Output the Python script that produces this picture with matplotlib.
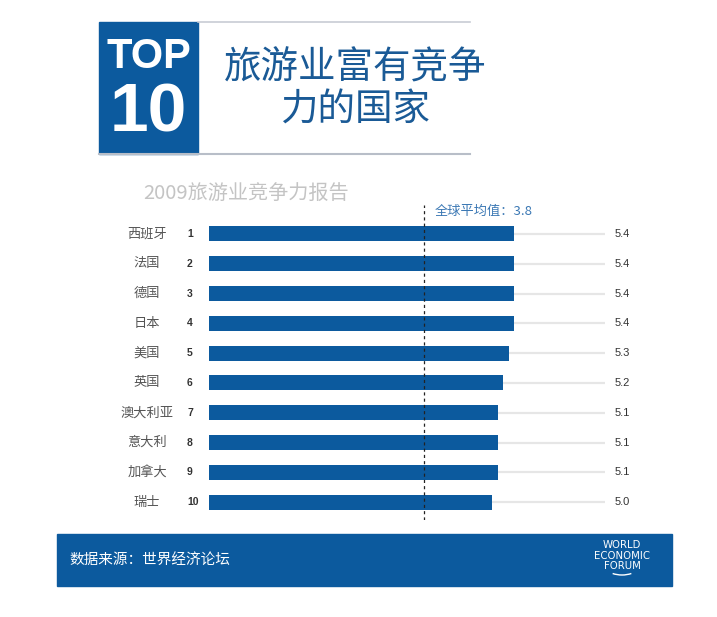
import matplotlib
matplotlib.use("Agg")
import matplotlib.pyplot as plt
import matplotlib.transforms as mtransforms
from matplotlib.patches import Rectangle, Arc
from matplotlib.lines import Line2D

plt.rcParams['font.family'] = ['Noto Sans CJK SC', 'DejaVu Sans']

# data
countries = ["西班牙", "法国", "德国", "日本", "美国", "英国", "澳大利亚", "意大利", "加拿大", "瑞士"]
ranks = [1, 2, 3, 4, 5, 6, 7, 8, 9, 10]
scores = [5.4, 5.4, 5.4, 5.4, 5.3, 5.2, 5.1, 5.1, 5.1, 5.0]
world_avg = 3.8
scale_max = 7.0

title_lines = ["旅游业富有竞争", "力的国家"]
subtitle = "2009旅游业竞争力报告"
source = "数据来源：世界经济论坛"

W, H = 717, 617
BLUE = "#0c5a9e"

fig = plt.figure(figsize=(W / 100, H / 100), dpi=100)


def fx(px):
    return px / W


def fy(py):
    return 1 - py / H


# bar area
ax = fig.add_axes([fx(209), fy(520), fx(605) - fx(209), fy(205) - fy(520)])
ypos = list(range(len(countries)))
ax.hlines(ypos, 0, scale_max, color="#e6e6e6", lw=1.6, zorder=1)
ax.barh(ypos, scores, height=0.5, color=BLUE, zorder=2)
ax.axvline(world_avg, color="#222222", lw=0.9, ls=(0, (2.5, 2.5)), zorder=3)
ax.set_xlim(0, scale_max)
ax.set_ylim(9.6, -0.97)
ax.axis("off")

trans = mtransforms.blended_transform_factory(fig.transFigure, ax.transData)
for i in ypos:
    ax.text(fx(147), i, countries[i], transform=trans, ha="center", va="center",
            fontsize=9.5, color="#555555")
    ax.text(fx(187), i, str(ranks[i]), transform=trans, ha="left", va="center",
            fontsize=7.5, fontweight="bold", color="#333333",
            family=["Liberation Sans", "DejaVu Sans"])
    ax.text(fx(615), i, f"{scores[i]:.1f}", transform=trans, ha="left", va="center",
            fontsize=8, color="#333333", family=["Liberation Sans", "DejaVu Sans"])

fig.text(fx(435), fy(211), f"全球平均值：{world_avg}", ha="left", va="center",
         fontsize=9.5, color="#3b78b4")

# header
fig.patches.append(Rectangle((fx(99), fy(154)), fx(198) - fx(99), fy(22) - fy(154),
                             transform=fig.transFigure, color=BLUE, zorder=0))
fig.lines.append(Line2D([fx(198), fx(470)], [fy(22), fy(22)], transform=fig.transFigure,
                        color="#c8ccd4", lw=1.2))
fig.lines.append(Line2D([fx(99), fx(470)], [fy(154), fy(154)], transform=fig.transFigure,
                        color="#b8bec8", lw=1.5))
fig.text(fx(149), fy(57), "TOP", ha="center", va="center", fontsize=30, fontweight="bold",
         color="white", family=["Liberation Sans", "DejaVu Sans"])
fig.text(fx(148), fy(113), "10", ha="center", va="center", fontsize=50, fontweight="bold",
         color="white", family=["Liberation Sans", "DejaVu Sans"])
fig.text(fx(355), fy(68), title_lines[0], ha="center", va="center", fontsize=27,
         color="#1a5a96")
fig.text(fx(355), fy(110), title_lines[1], ha="center", va="center", fontsize=27,
         color="#1a5a96")

fig.text(fx(143), fy(193), subtitle, ha="left", va="center", fontsize=14.5, color="#c4c4c4")

# footer
fig.patches.append(Rectangle((fx(57), fy(586)), fx(672) - fx(57), fy(534) - fy(586),
                             transform=fig.transFigure, color=BLUE, zorder=0))
fig.text(fx(69), fy(560), source, ha="left", va="center", fontsize=10.5, color="white")
for txt, py in [("WORLD", 545), ("ECONOMIC", 556), ("FORUM", 566)]:
    fig.text(fx(622), fy(py), txt, ha="center", va="center", fontsize=7.3,
             color="white", family=["DejaVu Sans"])
fig.patches.append(Arc((fx(622), fy(562)), fx(40), fy(0) - fy(26), theta1=235, theta2=305,
                       transform=fig.transFigure, color="white", lw=1.0))

fig.savefig("out.png", dpi=100, facecolor="white")
